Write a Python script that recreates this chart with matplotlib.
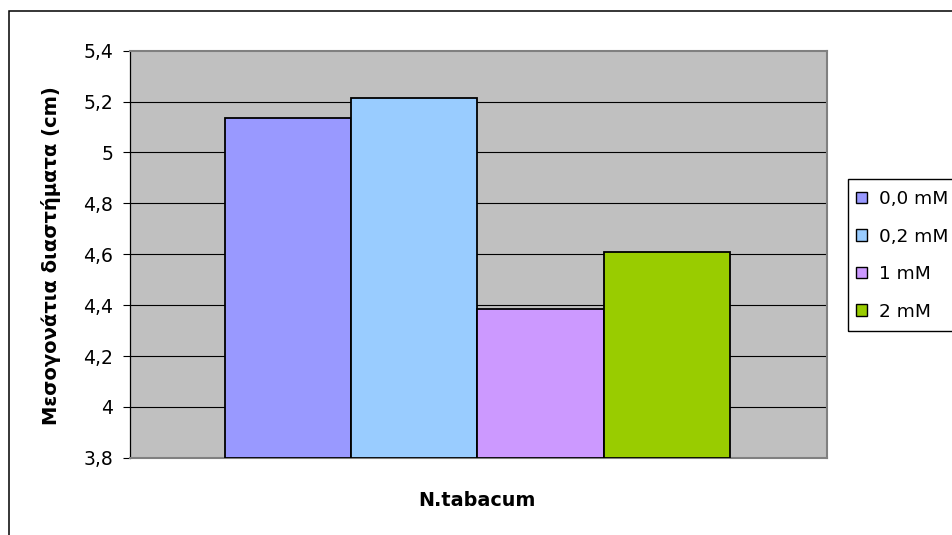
import matplotlib
matplotlib.use("Agg")
import matplotlib.pyplot as plt
from matplotlib.patches import Rectangle, Patch
import numpy as np

# Data
category = "N.tabacum"
series_labels = ["0,0 mM", "0,2 mM", "1 mM", "2 mM"]
series_values = [5.135, 5.215, 4.385, 4.607]
series_colors = ["#9999FF", "#99CCFF", "#CC99FF", "#99CC00"]
y_ticks = [3.8, 4.0, 4.2, 4.4, 4.6, 4.8, 5.0, 5.2, 5.4]
y_tick_labels = ["3,8", "4", "4,2", "4,4", "4,6", "4,8", "5", "5,2", "5,4"]
y_title = "Μεσογονάτια διαστήματα (cm)"

W, H = 953, 535
fig = plt.figure(figsize=(W / 100, H / 100), dpi=100)
plt.rcParams["font.family"] = ["DejaVu Sans"]

def fx(px):
    return px / W

def fy(py):
    return 1 - py / H

# Plot area
left, right, top, bottom = 130, 827, 50.7, 457.8
ax = fig.add_axes([fx(left), fy(bottom), fx(right - left), (bottom - top) / H])
ax.set_facecolor("#C0C0C0")

base = y_ticks[0]
n = len(series_values)
x = np.arange(n) - (n - 1) / 2
for xi, v, c, lab in zip(x, series_values, series_colors, series_labels):
    ax.bar(xi, v - base, bottom=base, width=1.0, color=c, edgecolor="black",
           linewidth=1.3, label=lab, zorder=3)

ax.set_xlim(-2.75, 2.77)
ax.set_ylim(y_ticks[0], y_ticks[-1])
ax.set_yticks(y_ticks)
ax.set_yticklabels(y_tick_labels, fontsize=13.5)
ax.set_xticks([])
ax.tick_params(axis="y", direction="out", length=5, width=0.8, pad=7, colors="black")

for t in y_ticks[1:-1]:
    ax.axhline(t, color="black", linewidth=0.8, zorder=1)

for side in ["top", "right", "bottom"]:
    ax.spines[side].set_color("#808080")
    ax.spines[side].set_linewidth(1.5)
ax.spines["left"].set_color("black")
ax.spines["left"].set_linewidth(0.9)

# Titles
fig.text(fx(51), fy(256), y_title, rotation=90, ha="center", va="center",
         fontsize=14, fontweight="bold")
fig.text(fx(477), fy(500), category, ha="center", va="center",
         fontsize=13.8, fontweight="bold")

# Chart border
fig.patches.append(Rectangle((fx(9), -0.1), 1.2, fy(10.5) + 0.1,
                             transform=fig.transFigure, fill=False,
                             edgecolor="black", linewidth=1.1, clip_on=False))

# Legend box
fig.patches.append(Rectangle((fx(848), fy(331)), 1.0, (331 - 179) / H,
                             transform=fig.transFigure, fill=False,
                             edgecolor="black", linewidth=1.0, clip_on=False))

handles = [Patch(facecolor=c, edgecolor="black", linewidth=1.0) for c in series_colors]
fig.legend(handles, series_labels, loc="upper left",
           bbox_to_anchor=(fx(856), fy(190)), bbox_transform=fig.transFigure,
           frameon=False, fontsize=13.3, handlelength=0.58, handleheight=0.58,
           handletextpad=0.65, labelspacing=1.06, borderpad=0, borderaxespad=0)

fig.savefig("out.png", dpi=100)
